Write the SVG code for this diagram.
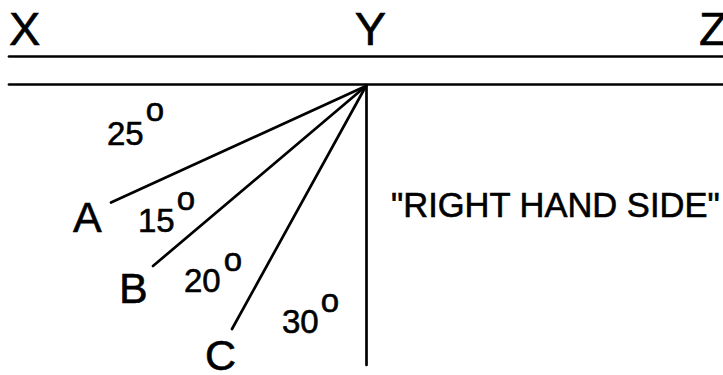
<svg xmlns="http://www.w3.org/2000/svg" width="723" height="375" viewBox="0 0 723 375">
<style>
text{font-family:"Liberation Sans",Arial,Helvetica,sans-serif;fill:#000;stroke:#000;stroke-width:0.6}
.big{font-size:47px}
.pt{font-size:43px}
.deg{font-size:33px}
.rhs{font-size:34.5px}
.ln{stroke:#000;stroke-width:2.7;fill:none;stroke-linecap:round}
</style>
<rect width="723" height="375" fill="#fff"/>
<g id="connectors">
<line class="ln" x1="9" y1="56.5" x2="723" y2="56.5"/>
<line class="ln" x1="9" y1="84.5" x2="723" y2="84.5"/>
<line class="ln" x1="366.5" y1="85" x2="366.5" y2="365"/>
<line class="ln" x1="111" y1="202.5" x2="366" y2="86"/>
<line class="ln" x1="153" y1="266" x2="366" y2="86"/>
<line class="ln" x1="232" y1="329" x2="366" y2="86"/>
</g>
<g id="X"><text class="big" x="9" y="45">X</text></g>
<g id="Y"><text class="big" x="370.5" y="45" text-anchor="middle">Y</text></g>
<g id="Z"><text class="big" x="699" y="45">Z</text></g>
<g id="A"><text class="pt" x="73" y="232">A</text></g>
<g id="B"><text class="pt" x="119" y="303">B</text></g>
<g id="C"><text class="pt" x="205" y="370">C</text></g>
<g id="angle25"><text class="deg" x="107" y="145">25<tspan dx="2" dy="-24">o</tspan></text></g>
<g id="angle15"><text class="deg" x="138" y="232">15<tspan dx="2" dy="-22">o</tspan></text></g>
<g id="angle20"><text class="deg" x="184" y="292">20<tspan dx="3" dy="-21">o</tspan></text></g>
<g id="angle30"><text class="deg" x="282" y="333">30<tspan dx="2" dy="-21">o</tspan></text></g>
<g id="rhs"><text class="rhs" x="391" y="217">"RIGHT HAND SIDE"</text></g>
</svg>
